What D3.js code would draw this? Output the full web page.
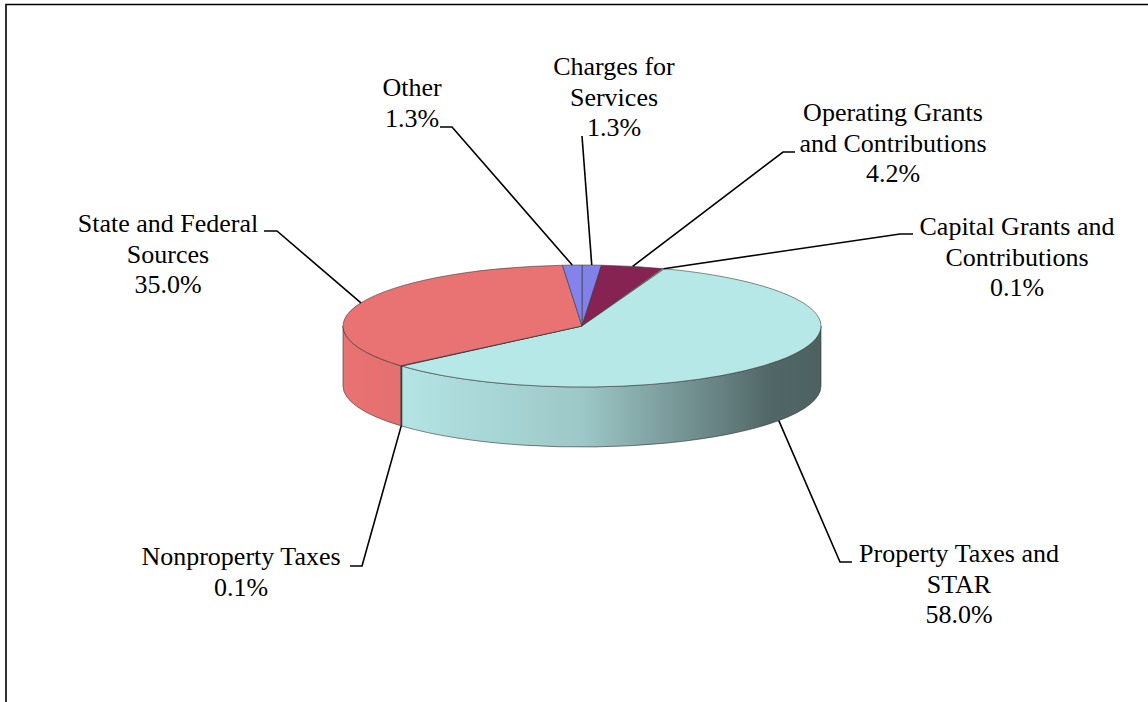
<!DOCTYPE html>
<html>
<head>
<meta charset="utf-8">
<script src="https://cdn.jsdelivr.net/npm/d3@7"></script>
<style>
  body { margin: 0; background: #fff; }
  svg { display: block; }
  .lbl { font-family: "Liberation Serif", Tinos, "Times New Roman", Times, "Noto Serif", "DejaVu Serif", serif; font-size: 26px; }
</style>
</head>
<body>
<svg id="chart" width="1148" height="702"></svg>
<script>
// revenue sources, clockwise from 12 o'clock
const categories = [
    "Charges for Services",
    "Operating Grants and Contributions",
    "Capital Grants and Contributions",
    "Property Taxes and STAR",
    "Nonproperty Taxes",
    "State and Federal Sources",
    "Other"
];
const values = [1.3, 4.2, 0.1, 58.0, 0.1, 35.0, 1.3];
const palette = ["#8181ea", "#872353", "#f2f2c2", "#b7e8e8", "#5c1a5c", "#e97272", "#8383ea"];

// label placement: text lines, centre x, first baseline, leader hook
const labelLayout = {
    "Charges for Services": {lines: ["Charges for", "Services"], x: 614, y: 75, hook: [[582, 136]]},
    "Operating Grants and Contributions": {lines: ["Operating Grants", "and Contributions"], x: 893, y: 121, hook: [[795, 152], [783, 152]]},
    "Capital Grants and Contributions": {lines: ["Capital Grants and", "Contributions"], x: 1017, y: 235, hook: [[913, 234], [900, 234]]},
    "Property Taxes and STAR": {lines: ["Property Taxes and", "STAR"], x: 959, y: 562, hook: [[852, 562], [840, 562]]},
    "Nonproperty Taxes": {lines: ["Nonproperty Taxes"], x: 241, y: 565, hook: [[350, 566], [362, 566]]},
    "State and Federal Sources": {lines: ["State and Federal", "Sources"], x: 168, y: 232, hook: [[264, 231], [277, 231]]},
    "Other": {lines: ["Other"], x: 412, y: 96, hook: [[440, 127], [452, 127]]}
};

const svg = d3.select('#chart');

// frame
svg.append('path')
    .attr('d', 'M6,710V4.5H1150')
    .attr('fill', 'none')
    .attr('stroke', '#000')
    .attr('stroke-width', 1.6);

const cx = 582, cy = 326, rx = 239, ry = 61, depth = 60;
const lineHeight = 30.5;

const color = d3.scaleOrdinal(categories, palette);
const formatPct = d3.format('.1%');

const pie = d3.pie().sort(null).value(d => d.value);
const arcs = pie(categories.map((name, i) => ({name, value: values[i]})));

const pt = (a, dy = 0) => [cx + rx * Math.sin(a), cy - ry * Math.cos(a) + dy];

// shading of the outer wall, left (light) to right (dark)
const shade = d3.scaleLinear()
    .domain([0, 0.125, 0.5, 0.75, 0.9, 1])
    .range([0, 0.02, 0.14, 0.4, 0.56, 0.58]);

const defs = svg.append('defs');
arcs.forEach((d, i) => {
    const g = defs.append('linearGradient')
        .attr('id', 'side' + i)
        .attr('gradientUnits', 'userSpaceOnUse')
        .attr('x1', cx - rx).attr('x2', cx + rx)
        .attr('y1', 0).attr('y2', 0);
    const base = color(d.data.name);
    d3.range(0, 1.0001, 0.05).forEach(o => {
        g.append('stop')
            .attr('offset', o)
            .attr('stop-color', d3.interpolateRgb(base, '#000')(shade(o)));
    });
});

// outer walls (front half only)
const sides = svg.append('g');
arcs.forEach((d, i) => {
    const s = Math.max(d.startAngle, Math.PI / 2);
    const e = Math.min(d.endAngle, Math.PI * 1.5);
    if (s >= e) return;
    const large = e - s > Math.PI ? 1 : 0;
    const p0 = pt(s), p1 = pt(e), q1 = pt(e, depth), q0 = pt(s, depth);
    sides.append('path')
        .attr('d', `M${p0}A${rx},${ry} 0 ${large} 1 ${p1}L${q1}A${rx},${ry} 0 ${large} 0 ${q0}Z`)
        .attr('fill', `url(#side${i})`)
        .attr('stroke', '#333')
        .attr('stroke-opacity', 0.75)
        .attr('stroke-width', 0.8);
});

// top faces
svg.append('g')
    .selectAll('path')
    .data(arcs)
    .join('path')
    .attr('d', d => {
        const large = d.endAngle - d.startAngle > Math.PI ? 1 : 0;
        return `M${cx},${cy}L${pt(d.startAngle)}A${rx},${ry} 0 ${large} 1 ${pt(d.endAngle)}Z`;
    })
    .attr('fill', d => color(d.data.name))
    .attr('stroke', '#333')
    .attr('stroke-opacity', 0.7)
    .attr('stroke-width', 0.8)
    .attr('stroke-linejoin', 'round');

// leader lines: hook points then slice edge at mid angle
svg.append('g')
    .selectAll('polyline')
    .data(arcs)
    .join('polyline')
    .attr('points', d => {
        const a = (d.startAngle + d.endAngle) / 2;
        const end = pt(a, Math.cos(a) < 0 ? depth : 0);
        return [...labelLayout[d.data.name].hook, end].map(p => p.join(',')).join(' ');
    })
    .attr('fill', 'none')
    .attr('stroke', '#000')
    .attr('stroke-width', 1.6);

// labels
const labels = svg.append('g')
    .attr('class', 'lbl')
    .attr('text-anchor', 'middle')
    .attr('fill', '#000');

arcs.forEach(d => {
    const lay = labelLayout[d.data.name];
    const text = labels.append('text')
        .attr('x', lay.x)
        .attr('y', lay.y);
    [...lay.lines, formatPct(d.data.value / 100)].forEach((line, j) => {
        text.append('tspan')
            .attr('x', lay.x)
            .attr('y', lay.y + j * lineHeight)
            .text(line);
    });
});
</script>
</body>
</html>
